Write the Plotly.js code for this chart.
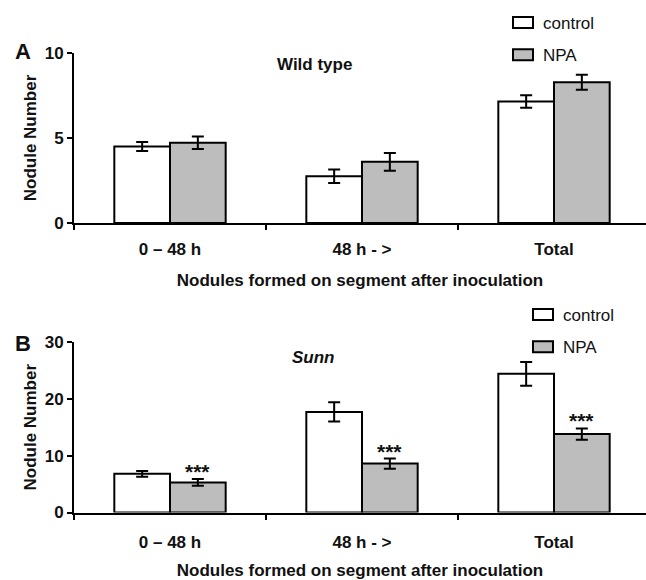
<!DOCTYPE html>
<html>
<head>
<meta charset="utf-8">
<script src="https://cdn.plot.ly/plotly-3.0.1.min.js"></script>
<style>html,body{margin:0;padding:0;background:#fff;}#chart{width:646px;height:580px;}</style>
</head>
<body>
<div id="chart"></div>
<script>
// ---- data ----
var categories = ["0 \u2013 48 h", "48 h - >", "Total"];
var seriesNames = ["control", "NPA"];

var wildControl    = [4.50, 2.75, 7.15];
var wildControlErr = [0.27, 0.40, 0.37];
var wildNPA        = [4.72, 3.60, 8.28];
var wildNPAErr     = [0.37, 0.52, 0.44];

var sunnControl    = [6.80, 17.70, 24.40];
var sunnControlErr = [0.50, 1.70, 2.10];
var sunnNPA        = [5.30, 8.60, 13.80];
var sunnNPAErr     = [0.60, 0.90, 1.00];

var sunnSig = ["***", "***", "***"];

var yTicksA = [0, 5, 10];
var yTicksB = [0, 10, 20, 30];

// ---- styling ----
var W = 646, H = 580;
var FONT = "Liberation Sans, Arial, sans-serif";
var NPA_COLOR = "#bdbdbd";
var bargap = 0.42;

var xDom = [74 / W, 1];
var xRange = [-0.5, 2.5 - 4 / 192];
var yDomA = [1 - 223 / H, 1 - 53 / H];
var yDomB = [1 - 512.5 / H, 1 - 342 / H];

function barTrace(name, y, err, color, xa, ya, legend, group) {
  return {
    type: "bar", name: name, x: categories, y: y,
    xaxis: xa, yaxis: ya, legend: legend, legendgroup: group,
    marker: {color: color, line: {color: "#000", width: 2}},
    error_y: {type: "data", array: err, visible: true, color: "#000", thickness: 2, width: 6},
    hoverinfo: "skip"
  };
}

var traces = [
  barTrace(seriesNames[0], wildControl, wildControlErr, "#ffffff", "x", "y", "legend", "a1"),
  barTrace(seriesNames[1], wildNPA, wildNPAErr, NPA_COLOR, "x", "y", "legend", "a2"),
  barTrace(seriesNames[0], sunnControl, sunnControlErr, "#ffffff", "x2", "y2", "legend2", "b1"),
  barTrace(seriesNames[1], sunnNPA, sunnNPAErr, NPA_COLOR, "x2", "y2", "legend2", "b2")
];

function xAxis(anchor, labelStandoff, titleStandoff) {
  return {
    domain: xDom, range: xRange, anchor: anchor, type: "category",
    showline: true, linecolor: "#000", linewidth: 2,
    ticks: "outside", ticklen: 5, tickwidth: 2, tickcolor: "#000",
    tickson: "boundaries", showgrid: false, zeroline: false,
    ticklabelstandoff: labelStandoff,
    tickvals: categories,
    ticktext: categories.map(function (c) { return "<b>" + c + "</b>"; }),
    tickfont: {family: FONT, size: 17, color: "#111"},
    title: {text: "<b>Nodules formed on segment after inoculation</b>",
            font: {family: FONT, size: 17, color: "#111"}, standoff: titleStandoff}
  };
}
function yAxis(anchor, dom, range, vals) {
  return {
    domain: dom, range: range, anchor: anchor,
    showline: true, linecolor: "#000", linewidth: 2,
    ticks: "outside", ticklen: 5, tickwidth: 2, tickcolor: "#000",
    tickvals: vals, ticktext: vals.map(function (v) { return "<b>" + v + "</b>"; }),
    showgrid: false, zeroline: false,
    tickfont: {family: FONT, size: 17, color: "#111"},
    title: {text: "<b>Nodule Number</b>", font: {family: FONT, size: 17, color: "#111"}, standoff: 4}
  };
}

// offset (px) of the NPA bar centre from its category centre
var catPx = (xDom[1] - xDom[0]) * W / (xRange[1] - xRange[0]);
var npaShift = catPx * (1 - bargap) / 4;

var annotations = [
  {xref: "paper", yref: "paper", x: 23 / W, y: 1 - 52 / H, xanchor: "center", yanchor: "middle",
   text: "<b>A</b>", showarrow: false, font: {family: FONT, size: 22, color: "#111"}},
  {xref: "paper", yref: "paper", x: 23 / W, y: 1 - 343 / H, xanchor: "center", yanchor: "middle",
   text: "<b>B</b>", showarrow: false, font: {family: FONT, size: 22, color: "#111"}},
  {xref: "paper", yref: "paper", x: 314 / W, y: 1 - 64 / H, xanchor: "center", yanchor: "middle",
   text: "<b>Wild type</b>", showarrow: false, font: {family: FONT, size: 17, color: "#111"}},
  {xref: "paper", yref: "paper", x: 313 / W, y: 1 - 357 / H, xanchor: "center", yanchor: "middle",
   text: "<b><i>Sunn</i></b>", showarrow: false, font: {family: FONT, size: 17, color: "#111"}}
];
categories.forEach(function (c, i) {
  annotations.push({
    xref: "x2", yref: "y2", x: c, y: sunnNPA[i] + sunnNPAErr[i],
    xshift: npaShift, yshift: -6, xanchor: "center", yanchor: "bottom",
    text: "<b>" + sunnSig[i] + "</b>", showarrow: false,
    font: {family: FONT, size: 21, color: "#111"}
  });
});

var legendBase = {
  xanchor: "left", yanchor: "top", bgcolor: "rgba(0,0,0,0)", borderwidth: 0,
  font: {family: FONT, size: 17, color: "#111"}, tracegroupgap: 7, itemwidth: 30,
  traceorder: "grouped"
};
var legA = Object.assign({}, legendBase, {x: 503 / W, y: 1 - 5 / H});
var legB = Object.assign({}, legendBase, {x: 523 / W, y: 1 - 297 / H});

var layout = {
  width: W, height: H, autosize: false,
  margin: {l: 0, r: 0, t: 0, b: 0, pad: 0},
  paper_bgcolor: "#fff", plot_bgcolor: "#fff",
  barmode: "group", bargap: bargap, bargroupgap: 0,
  showlegend: true,
  font: {family: FONT, color: "#111"},
  xaxis: xAxis("y", 10, 16), yaxis: yAxis("x", yDomA, [0, 10], yTicksA),
  xaxis2: xAxis("y2", 13, 25), yaxis2: yAxis("x2", yDomB, [0, 30], yTicksB),
  legend: legA, legend2: legB,
  annotations: annotations
};

function widenLegendBoxes() {
  // legend swatches drawn as wide rectangles like the original figure
  var paths = document.querySelectorAll("#chart .legendpoints path");
  paths.forEach(function (p) { p.setAttribute("d", "M10,5.5H-10V-5.5H10Z"); });
}

var gd = document.getElementById("chart");
Plotly.newPlot(gd, traces, layout, {staticPlot: true, displayModeBar: false}).then(function () {
  widenLegendBoxes();
  gd.on("plotly_afterplot", widenLegendBoxes);
  setTimeout(widenLegendBoxes, 50);
  setTimeout(widenLegendBoxes, 300);
});
</script>
</body>
</html>
